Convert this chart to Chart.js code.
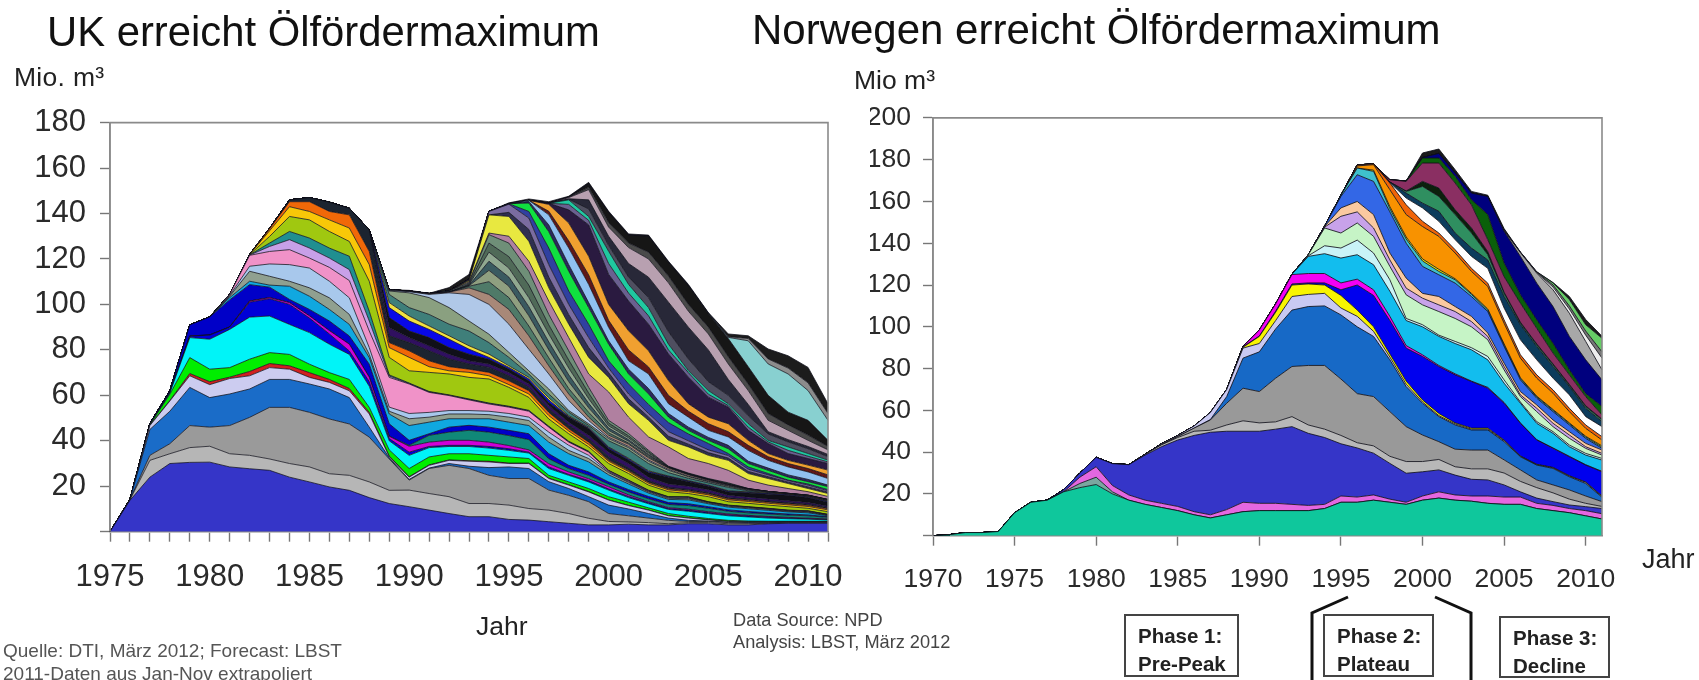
<!DOCTYPE html>
<html><head><meta charset="utf-8">
<script src="https://cdn.jsdelivr.net/npm/chart.js@4"></script>
<style>
html,body{margin:0;padding:0;background:#fff;width:1699px;height:680px;overflow:hidden;font-family:"Liberation Sans",Arial,sans-serif;color:#222}
canvas{position:absolute;filter:blur(.45px)}
.t{position:absolute;white-space:nowrap;line-height:1;filter:blur(.3px)}
.box{position:absolute;border:2px solid #444;box-sizing:border-box;font-weight:bold;font-size:20.5px;line-height:28px;padding:6px 0 0 12px;color:#222;white-space:nowrap;filter:blur(.3px)}
svg{position:absolute;left:0;top:0}
</style></head><body>
<div class="t" style="left:47px;top:11px;font-size:41.8px;color:#111">UK erreicht Ölfördermaximum</div>
<div class="t" style="left:752px;top:9px;font-size:42px;color:#111">Norwegen erreicht Ölfördermaximum</div>
<div class="t" style="left:14px;top:64px;font-size:26.5px;letter-spacing:.3px">Mio. m³</div>
<div class="t" style="left:854px;top:67px;font-size:26.5px">Mio m³</div>
<div class="t" style="left:476px;top:613px;font-size:26.5px">Jahr</div>
<div class="t" style="left:1642px;top:546px;font-size:27px">Jahr</div>
<div class="t" style="left:3px;top:641px;font-size:19px;color:#555">Quelle: DTI, März 2012; Forecast: LBST</div>
<div class="t" style="left:3px;top:664px;font-size:19px;color:#555">2011-Daten aus Jan-Nov extrapoliert</div>
<div class="t" style="left:733px;top:611px;font-size:18.2px;color:#444">Data Source: NPD</div>
<div class="t" style="left:733px;top:633px;font-size:18.2px;color:#444">Analysis: LBST, März 2012</div>
<div class="box" style="left:1124px;top:614px;width:115px;height:63px">Phase 1:<br>Pre-Peak</div>
<div class="box" style="left:1323px;top:614px;width:111px;height:63px">Phase 2:<br>Plateau</div>
<div class="box" style="left:1499px;top:616px;width:111px;height:62px">Phase 3:<br>Decline</div>
<svg width="1699" height="680"><polyline points="1348,597 1312,613 1312,680" fill="none" stroke="#111" stroke-width="3"/><polyline points="1435,597 1471,613 1471,680" fill="none" stroke="#111" stroke-width="3"/></svg>
<canvas id="uk" style="left:0;top:90px;width:860px;height:510px" width="860" height="510"></canvas>
<canvas id="no" style="left:870px;top:90px;width:780px;height:510px" width="780" height="510"></canvas>
<script>
// Cumulative top edge of every stacked band (Mio. m3).
// Each list ends in 2011; a shorter list starts later.
const ukYears=[1975,1976,1977,1978,1979,1980,1981,1982,1983,1984,1985,1986,1987,1988,1989,1990,1991,1992,1993,1994,1995,1996,1997,1998,1999,2000,2001,2002,2003,2004,2005,2006,2007,2008,2009,2010,2011];
const noYears=[1970,1971,1972,1973,1974,1975,1976,1977,1978,1979,1980,1981,1982,1983,1984,1985,1986,1987,1988,1989,1990,1991,1992,1993,1994,1995,1996,1997,1998,1999,2000,2001,2002,2003,2004,2005,2006,2007,2008,2009,2010,2011];
const ukYTicks=[0,20,40,60,80,100,120,140,160,180];
const noYTicks=[0,20,40,60,80,100,120,140,160,180,200];

const ukBlue=[0,13.8,24,30,30.5,30.6,28.5,27.7,27,24,21.9,19.7,18.2,15,12.4,11,9.5,8,6.6,6.6,5.4,5.1,4.4,3.7,3,3,3.3,3,3,3.5,3.5,3,3,3.5,3.7,3.7,3.7];
const ukLtGray=[14,31.4,34.3,37,37.6,34.3,33.6,32,30,28.5,25.5,24.8,21.9,18.2,18.3,16.8,15.4,12.4,12.4,11.7,10.2,9.5,8,5.9,4.5,4.3,4,3.5,4,4,3.5,3.5,3.7,3.9,3.9,3.9];
const ukGray=[14.1,33.6,38.7,46.7,46,46.7,50.3,54.7,54.7,52.5,49.6,47.4,41.6,32,22.7,27.8,29.2,27.8,24.8,23.4,23.4,18.3,16,13.2,8,7,6,5,4.5,4.5,4,3.8,3.9,4,4,4];
const ukMidBlue=[14.2,45,53,63.5,59,60.6,62.8,67,67,65,62.8,59,46,32.5,23,28,30,28.8,28.2,28.5,27.8,22,19,15.4,11.7,10,8,6,5,4.7,4.2,4,4,4.1,4.1,4.1];
const ukLavender=[46.7,57.5,68.6,64.7,67.4,68.6,72.2,71.5,67.9,65.7,62,51.8,33,24,29.2,31.4,31,30.7,30,30,23.4,20.5,17.5,13.9,11.5,9.5,7,6,5.2,4.5,4.3,4.3,4.3,4.3,4.3];
const ukRed=[46.8,57.7,69.6,66,68,70.5,74,73,70,67,63,52.5,33.3,24.2,29.4,31.6,31.2,31,30.2,30.2,23.6,20.7,17.7,14,11.6,9.6,7.1,6.1,5.3,4.6,4.4,4.4,4.4,4.4,4.4];
const ukGreen=[47,60.5,76.6,71.5,72.2,75.9,78.8,78,73.7,70,67,54.7,36,27.8,32.9,34.3,34.3,33.6,32.9,32.2,24.8,21.9,19,15.4,13,10.5,8,6.8,5.8,5,4.7,4.6,4.6,4.6,4.6];
const ukCyan=[47.2,61,85.4,84.7,89,94.4,94.9,91.2,87.6,82.5,78,64,40,33.6,37,37.5,37.5,36.8,35.8,34.6,27.8,24.8,21.9,18.3,15,12.3,9.8,9,8,7,6.5,6,5.7,5.5,5.2];
const ukNavy=[47.3,61.2,86,86.5,90,101,102.5,100,94,87,79.5,66,41,35,37.5,38,38,37.5,36.5,35,28.5,25.2,22.5,18.8,15.5,12.8,10.2,9.5,8.4,7.4,6.9,6.4,6,5.7,5.4];
const ukMagenta=[47.4,61.3,86.1,86.6,90.1,101.5,103,100.8,95,88.5,82.5,68,42,37.6,39.4,40.2,40.2,39.4,37.9,36,29.9,26.3,23.3,19.8,16.2,13.2,10.6,9.9,8.8,7.8,7.2,6.7,6.3,6,5.6];
const ukTeal=[38,42.4,43.8,44.6,43.8,42.3,40.5,32.1,27.8,24.8,20.9,17.5,14.5,12,11.5,10.3,9,8.3,7.8,7.3,7,6.3];
const ukNavy2=[47.6,62,91,94.5,102,108.7,107.6,102.2,97.8,92.7,86.1,73.7,47.5,40.2,43.1,46,46.8,46,44.6,43.1,34.3,29.2,26.3,21.9,18.5,15.5,12.8,12.3,11,9.6,8.9,8.3,7.8,7.4,6.6];
const ukCyan2=[103,110.2,108.5,108,103.6,97.8,91.2,76.6,51.8,46.7,48.2,49.7,49.7,49.7,48.2,46.7,39.4,34.3,30.7,25,21,17,14.2,14,12.3,10.8,10.1,9.4,8.7,8.3,7];
const ukSage=[103.6,114.6,112.4,110.2,107.3,102.9,95.6,78,53,49.7,50.4,51.8,51.8,51.5,50.4,48.9,41.6,35.8,32.2,26,21.7,17.5,14.7,14.5,12.7,11.2,10.5,9.8,9,8.6,7.2];
const ukLtBlue=[104,116.8,117.8,117.5,116,110.2,102.9,81,54.8,52,52.5,53.3,53.3,53,52,50.4,43.8,38,33.6,26.4,22,17.8,15,14.8,12.9,11.4,10.7,10,9.2,8.8,7.4];
const ukPink=[104.5,121.6,123.3,124.1,120.4,116.3,110.5,88.3,67.9,65,61.3,59.9,58,56.2,54.8,53,46,39.4,35,26.8,22.4,18,15.2,15.1,13,11.5,10.8,10.1,9.3,9,7.5];
const ukLilac=[121.7,125.5,128.5,124.8,120.4,115.3,92.7,68.5,65.2,61.5,60,58.2,56.4,55,53.2,46.2,39.6,35.2,26.9,22.5,18.1,15.3,15.2,13.1,11.6,10.9,10.2,9.4,9.1,7.6];
const ukTeal2=[121.8,127,132.1,129.2,124.8,121.2,97,69,65.4,61.7,60.2,58.4,56.6,55.2,53.4,46.4,39.8,35.4,27,22.7,18.3,15.4,15.4,13.2,11.7,11,10.3,9.5,9.2,7.6];
const ukLime=[121.9,129.9,138.7,137.2,132.1,127.7,110.2,76.7,70.8,70.1,69.4,67.9,67.2,63.5,59.1,49.6,43.1,37.3,30,25.6,20.5,17.6,16.8,15.4,13.2,12.5,11.7,11,10.3,8.8];
const ukAmber=[122,132.4,143,140.9,137.2,133.6,117.5,81,76.7,72.6,70.8,70.1,68.6,64.7,60.6,51.1,44.3,38.4,31,26.5,21.3,18.4,17.6,16.2,14,13.3,12.5,11.8,11.1,9.6];
const ukOrange=[133.3,145.2,145.2,140.9,139.4,123.3,83.2,79.6,75.2,72.6,71.5,70.1,66.4,62,52.5,45.3,39.4,31.5,27,21.8,18.9,18.1,16.7,14.5,13.8,13,12.3,11.6,10.1];
const ukDark1=[133.5,146,147,145,142.3,132.8,86.2,83.2,79.6,76,73.8,72.3,68.6,63.5,54,46.8,40.9,33,28,22.4,19.5,18.6,17.2,15,14.3,13.5,12.8,12.1,10.6];
const ukViolet=[89.8,85.4,81.8,78.1,75.2,73.8,70.1,65,55.5,48.2,42.4,35,30,24,21,20,18.5,16,15.2,14.4,13.6,12.8,11.2];
const ukBlack=[94.2,88.3,85.4,81,78.1,75.9,71.6,66.4,56.9,50.4,45.3,36.5,31.5,26,24,22,20,17.5,17,16.5,16,15,13];
const ukBrightBlue=[98.6,92.7,89,84.7,80.3,76.7,72.3,67.2,58,50.7,45.6,37,32,26.5,24.3,22.3,20.3,17.8,17.3,16.8,16.3,15.3,13.3];
const ukYellow=[100.8,94.9,90.5,86.2,81.8,78.1,73,67.9,58.9,51.1,46,37.3,32.3,26.8,24.5,22.5,20.5,18,17.5,17,16.5,15.5,13.5];
const ukTeal3=[104.4,98.6,95.6,91.3,88.3,83.2,76.7,69.4,60.6,52.6,46.8,40,36,30,26,23.5,21.5,19.5,18,17.2,16.5,15.6,13.7];
const ukMoss=[105.9,105.1,103,98.6,92.7,86.9,78.9,70.8,62.8,53.3,47.5,41,37,31,27,24.2,22,20,18.3,17.4,16.6,15.7,13.8];
const ukSteel=[106.2,105.6,104.4,105.1,104.4,100,91.3,80.3,69.4,57.7,48.9,41.5,37.5,31.5,27.4,24.4,22.2,20.2,18.5,17.5,16.7,15.8,13.9];
const ukTan=[106.3,105.7,104.7,105.4,107.3,104.4,97.8,86.2,73,60.6,50.4,42.5,38.5,32.5,28,25,22.6,20.5,18.7,17.7,16.8,15.9,14];
const ukFern1=[108,110,103,90.5,76.5,63,52.5,43.5,39,33,28.2,25.2,22.8,20.6,18.7,17.5,16.8,15.9,14];
const ukFern2=[108.2,115,108,95,80,66,54.5,44.6,39.8,33.5,28.3,25.3,22.9,20.7,18.8,17.5,16.8,16,14];
const ukFern3=[108.4,119,112,99,83.5,69,56.5,45.6,40.5,34,28.4,25.4,23,20.8,18.8,17.5,16.8,16,14.1];
const ukFern4=[108.6,123,116,103,87,72,58.5,46.6,41.3,34.6,28.5,25.5,23.1,21,18.9,17.5,16.9,16,14.1];
const ukFern5=[109,127,121,108.5,91,75.5,61,47.8,42.2,35.2,28.6,25.6,23.2,21.2,19,17.6,16.9,16.1,14.2];
const ukGreenGray=[106.5,105.9,104.8,105.9,109.5,130.7,127,114.6,95.6,79.6,63.5,49,43.2,35.8,28.8,25.8,23.4,21.5,19,17.6,16.9,16.1,14.2];
const ukMauve=[110,131.4,130,119,101.5,85.4,69.4,61.5,50.4,41.7,37.3,32.2,30,27,22.7,20.5,19,17.6,15.5];
const ukYellow2=[110.5,139.4,138.7,127.8,107.3,91.3,76.7,67.9,56.3,49,40.2,37.3,33.6,31.4,25.6,23.4,21.2,19,16.8];
const ukSmudge=[140.5,133,112,95.5,81,70,58.5,50.5,42,38.5,34.8,32.4,26.5,24.2,21.8,19.7,17.4];
const ukSlate=[111,140.9,144.1,138,117.5,100,85.4,72,60.6,52,44,40,36,33.5,27.5,25,22.5,20.5,18];
const ukIndigo=[141,144.3,140.9,124.8,105.9,91.3,75.2,65,56,48,43,38.8,34.4,28.5,25.6,22.7,21,18.5];
const ukNeon=[144.6,132,114.6,98.6,82.5,69.4,60.6,50.4,44.6,40.2,36.5,30,27,24,22,19.8];
const ukInk=[145.3,135,117.5,100.8,84,71.5,63,52,46,41.5,38,31,28,25,23,20.5];
const ukSky=[145.8,139.4,124.8,108.8,89.9,75.2,69.4,56.3,50.4,44.6,41.7,35.8,31.4,28.5,26.3,23.4];
const ukRust=[141,128,113,93,80,72.5,60,53,47.5,44,38,33,30,27.8,25];
const ukOrange2=[144,135.8,121.2,100,88.4,79.6,66.5,56.3,50.4,47.5,40.2,34.4,31.4,29.3,27.1];
const ukPlum=[144.5,141.6,135,113.2,101.5,91.3,78.2,68,59.2,54.8,44.6,38.8,34.4,32.2,30];
const ukPlum2=[144,137,118,105,95,80,70,60.5,55.5,46,39.5,35.8,33.2,30.7];
const ukSea=[146,138.7,123.4,108.8,98.6,82.5,70.9,62.1,56.3,47.5,40.2,37.3,34.4,31.5];
const ukSmoke=[146.2,142,126,112,103,88,76,66,60,51,43,39.5,36.5,33];
const ukDusk=[146.5,146,130,118,112,101,90,80,67,56,44,40.5,37.5,34];
const ukSilver=[147,150.5,134,125,120,109.5,97,87,73.8,62.1,49,44.6,40.2,36];
const ukHatch=[147.1,151.5,136,127,123,112.5,100,90,77,65,52,47,42.5,37.5];
const ukCoal=[147.3,153,140.5,130.5,130,118.5,108.3,96,85,72.6,60,52.6,49,40.2];
const ukAqua=[96.1,85.5,84,73.8,69.4,62.1,49];
const ukAsh=[96.2,85.8,85,76,72,65.5,52];
const ukCrest=[106,106.2,104.9,107.4,113.2,140.4,144.7,146.4,145.2,147.6,153.7,141,131,130.5,119,108.8,96.4,87,86.2,80.4,77.4,72.3,56.3];

const noTurquoise=[0,.5,1.5,1.5,2,11,16,17,21,23,24.5,20,17,15,13.5,12,10,8.5,10,11.5,12,12,12,12,13,16,16,17,16,15,17,18,17,16.5,15.5,15,15,13,12,11,9.5,8];
const noSage=[25,28,21,0,0,0,0,0,0,0,0,0,0,0,0,0,0,0,0,0,0,0,0,0,0,0,0,0,0,0,0,0,0];
const noPink=[28,33,24,19.5,17,15.5,14,11.5,10,12.5,16,15.5,15.5,15,14.5,15,19,18.5,19.5,17.5,16,19,21,19.5,19,19,18.5,18.5,15.5,14.5,13,12,10.5];
const noPurple=[22,30,37.5,34.5,34,38.6,42.6,45.8,48,49.5,50,50,50,51,52.2,49,47,44,42,39.5,34.6,29.9,30.6,31.5,29,27,26.7,24.3,21,18,16.3,14.7,13.9,13];
const noLtGray=[39,43.5,47,50,50.5,53,55,54,54.5,57,53,51,48,44.5,43,38,35.5,35.5,36.5,33,32,32,30,26,23,20.5,17.5,15.5,14];
const noGray=[47.5,51.5,55.4,63.4,70.6,69,75.4,81,81.5,81.5,75,68,66.6,59.4,52.2,48.2,45,41.4,41,41,36.3,31.5,26.7,24.3,21.9,19,16.3];
const noBlue=[55.6,66.6,85,88,99,108,109.7,110,105.7,100,95.4,84.2,71.4,63.4,57,53,50.6,50.6,45,37.8,33.8,32.2,28.2,25,18.4];
const noLavender=[44,48,52.5,59,70,89.8,92,103,114.5,115.5,116,109,105,97.8,85.5,72.5,64,57.5,53.5,51,51,45.5,38,34,32.5,28.5,25.5,18.8];
const noYellow=[90.2,95.4,107,120,120.5,120,115,108,100,87,74,65,58.5,54,51.5,51.5,45.8,38.2,34.2,32.7,28.7,25.7,19];
const noBrightBlue=[90.4,95.6,107.5,120.5,121,121,117.7,120,115,103,89.8,85.8,81,77,73.8,70.6,63.4,53.8,45.8,41.8,37.8,33.8,30.6];
const noMagenta=[90.6,98.5,111,125,125.5,125.5,121,122.8,117.7,105,91,86.6,81.5,77.5,74,71,63.8,54,46,42,38,34,30.8];
const noCyan=[125.2,133.7,135,132.9,134.5,129.7,117,103,100,95.4,92,89,84.2,73,63.4,53.8,49,42.6,38.6,36.2];
const noLtCyan=[134,138.8,137.7,141.5,135.3,122.5,104,101,96,93,90,85.8,74.6,64,54.6,49.8,43.4,39.4,37];
const noLtGreen=[134.5,147.3,144.9,149.7,143.3,128.9,115.3,110.5,107.3,104,100,93.8,79.4,66.6,59.4,52.2,46.6,41.8,38.6];
const noLilac=[147.7,152.9,155,147.3,132,118.5,113.7,110.5,107.3,102.5,95.4,81,67.4,61,53.8,48.2,42.6,39.4];
const noPeach=[148,156.9,160,153.7,135.3,123.3,116,114.5,109.7,105,97,82.6,69,62.6,55.4,49.8,44.2,41];
const noRoyal=[148.2,162.4,172.8,169.6,155,140,128.9,124.9,120.9,114.5,107.3,90.6,74.6,65.8,59.4,53,46.6,41.8];
const noTeal=[163,176,174.4,156.5,142,131.5,126.5,122.5,115.5,108,91.2,75.2,66.4,60,53.6,47.2,42.4];
const noYellow2=[175,157.5,143,132.5,127.5,123,116,108.5,91.8,75.6,66.8,60.4,54,47.6,43];
const noOrange=[177,177.6,165.6,153.7,148,143.3,135.3,126.5,119.3,101.7,85,75.4,68.2,59.4,51.4,45.8];
const noDkOrange=[177.5,178,168.8,158.4,150.5,144.9,136.9,128,120.9,103.3,86.6,77,69.8,61,53,47.4];
const noWhite=[169,161.6,156.9,150.5,141.7,133.7,128,109,93.8,84.2,75.4,67.4,57,52.2];
const noDkTeal=[169.3,164,159.2,155.3,144.9,137.7,132,114.5,101,90.6,81,71.4,61,54.6];
const noGreen2=[164.8,167.2,162.4,153.7,144.9,134.5,116,101.7,91.4,81.8,72,61.8,55.4];
const noDark2=[165,169.6,166.4,156,147.3,136,116.5,102.2,91.8,82.2,72.4,62.2,55.8];
const noMaroon=[170.4,169.6,178.4,178.4,168.8,158.4,141.7,124,111.3,99.3,87.4,77,66.6,57.8];
const noDkGreen=[169.8,180.8,180.8,172,160.8,153.7,130.5,115.3,103.3,92,79.4,68,61.8];
const noNavy=[181,183,173.6,164,162.4,145.7,133.7,120.9,109.7,95.4,84.2,74.6];
const noStripe1=[146,135.5,125.7,117.7,106.5,93,79.4];
const noStripe2=[146.2,135.6,126,119,108.5,96,85];
const noStripe3=[146.4,135.7,126.2,120,110,98,88];
const noLeaf=[121,113,101,94.5];
const noBlack=[183.2,185.1,175.2,164.8,163,147,135.8,126.4,121.2,114.5,103.5,95.5];

const ukSeries=[ukBlue,ukLtGray,ukGray,ukMidBlue,ukLavender,ukRed,ukGreen,ukCyan,ukNavy,ukMagenta,ukTeal,ukNavy2,ukCyan2,ukSage,ukLtBlue,ukPink,ukLilac,ukTeal2,ukLime,ukAmber,ukOrange,ukDark1,ukViolet,ukBlack,ukBrightBlue,ukYellow,ukTeal3,ukMoss,ukSteel,ukTan,ukFern1,ukFern2,ukFern3,ukFern4,ukFern5,ukGreenGray,ukMauve,ukYellow2,ukSmudge,ukSlate,ukIndigo,ukNeon,ukInk,ukSky,ukRust,ukOrange2,ukPlum,ukPlum2,ukSea,ukSmoke,ukDusk,ukSilver,ukHatch,ukCoal,ukAqua,ukAsh,ukCrest];
const ukColors=['#3535c8','#b6b6b6','#9a9a9a','#1a6cc8','#ccccf0','#d02020','#00ee00','#00f4f8','#0000d8','#d000d8','#108878','#0000c8','#10a8e0','#90a090','#a8c8ec','#f092c8','#c8a0e8','#208f90','#a0c810','#f8c808','#f06808','#1c2430','#301060','#101018','#0808e8','#f0e040','#3f7f7a','#8aa080','#b0c8e8','#a88878','#4f7a68','#8f9f80','#3a5a60','#90a890','#506a58','#6f8f78','#b080a0','#e8e840','#303050','#7a6ca0','#3040a0','#10e040','#2a2a60','#90c0f0','#601818','#f0a030','#2a1a40','#6a6090','#20c8a0','#4f4f60','#282838','#b8a0b0','#4a4a4a','#161616','#88d0d0','#8c8c8c','#1c1c1c'];
const noSeries=[noTurquoise,noSage,noPink,noPurple,noLtGray,noGray,noBlue,noLavender,noYellow,noBrightBlue,noMagenta,noCyan,noLtCyan,noLtGreen,noLilac,noPeach,noRoyal,noTeal,noYellow2,noOrange,noDkOrange,noWhite,noDkTeal,noGreen2,noDark2,noMaroon,noDkGreen,noNavy,noStripe1,noStripe2,noStripe3,noLeaf,noBlack];
const noColors=['#0fc79c','#7aa7a0','#e467e0','#3535c8','#b8b8b8','#999999','#1769c6','#c9c9f2','#f8f400','#0000ee','#f400f4','#12bdee','#c9f3f7','#c6f4c6','#c8a2ea','#fac9a0','#3367e6','#3fc0cc','#e8e800','#f89200','#f06408','#ffffff','#0c3c5c','#2f8f60','#0c200c','#8a2f62','#0a600a','#00007e','#a8a8a8','#eeeeee','#777777','#66cc66','#1a1a1a'];

// Per-band values for the stacked y scale, from the cumulative edges.
function bands(series,n){
  const lower=new Array(n).fill(0);
  return series.map(s=>{
    const full=new Array(n-s.length).fill(null).concat(s);
    return full.map((v,i)=>{
      const top=Math.max(lower[i],v===null?lower[i]:v);
      const d=top-lower[i]; lower[i]=top; return d;
    });
  });
}
const frame={id:'frame',afterDraw(c){const a=c.chartArea,x=c.ctx;x.save();x.strokeStyle='#8a8a8a';x.lineWidth=1.6;
  x.beginPath();x.moveTo(a.left,a.bottom);x.lineTo(a.left,a.top);x.lineTo(a.right,a.top);x.lineTo(a.right,a.bottom);x.stroke();x.restore();}};

function make(id,years,series,colors,yTicks,o){
  const data=bands(series,years.length);
  new Chart(document.getElementById(id),{
    type:'line',
    data:{labels:years,datasets:data.map((d,i)=>({data:d,backgroundColor:colors[i],borderColor:o.line,borderWidth:o.lw,
      fill:i===0?'origin':'-1',pointRadius:0,tension:0,stack:'s'}))},
    plugins:[frame],
    options:{responsive:false,animation:false,events:[],
      layout:{autoPadding:false,padding:{top:o.top,right:o.right,bottom:0,left:0}},
      plugins:{legend:{display:false},tooltip:{enabled:false}},
      elements:{line:{capBezierPoints:false}},
      scales:{
        x:{type:'category',offset:false,afterFit(s){s.height=o.xh;},
          border:{color:'#8a8a8a',width:1.6},
          grid:{drawOnChartArea:false,tickLength:10,tickWidth:1.4,
            tickColor:c=>(o.everyYear||years[c.index]%5===0)?'#777':'rgba(0,0,0,0)'},
          ticks:{autoSkip:false,maxRotation:0,minRotation:0,padding:o.xpad,color:'#2a2a2a',font:{family:'Liberation Sans',size:o.fx},
            callback(v){const y=this.getLabelForValue(v);return y%5===0?String(y):'';}}},
        y:{stacked:true,min:0,max:yTicks[yTicks.length-1],afterFit(s){s.width=o.yw;},
          afterBuildTicks(s){s.ticks=yTicks.map(v=>({value:v}));},
          border:{color:'#8a8a8a',width:1.6},
          grid:{drawOnChartArea:false,tickLength:10,tickWidth:1.4,tickColor:'#777'},
          ticks:{padding:o.ypad,color:'#2a2a2a',font:{family:'Liberation Sans',size:o.fy},
            callback(v){return v===0?'':String(v);}}}
      }}
  });
}
make('uk',ukYears,ukSeries,ukColors,ukYTicks,{line:'rgba(15,15,25,.85)',lw:.9,top:20.7,right:32,xh:68.3,yw:110,xpad:17,ypad:14,fx:31,fy:31,everyYear:true});
make('no',noYears,noSeries,noColors,noYTicks,{line:'rgba(15,15,25,.85)',lw:1,top:18.3,right:48,xh:64.3,yw:63,xpad:18,ypad:12,fx:26.5,fy:26.5,everyYear:false});
</script>
</body></html>
